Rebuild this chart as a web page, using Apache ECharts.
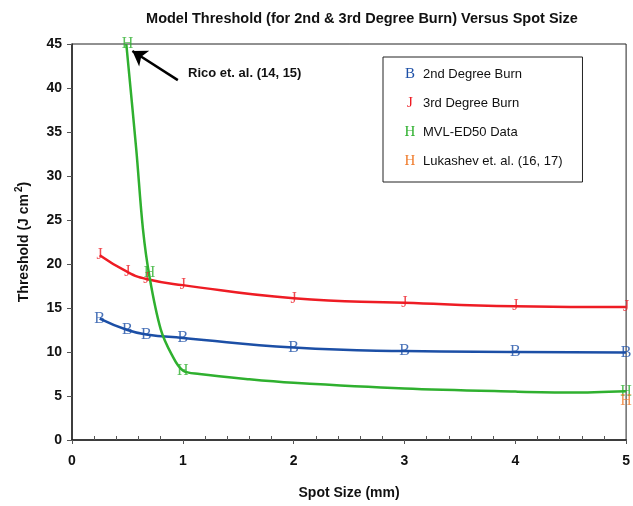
<!DOCTYPE html>
<html>
<head>
<meta charset="utf-8">
<script src="https://cdn.jsdelivr.net/npm/echarts@6/dist/echarts.min.js"></script>
<style>html,body{margin:0;padding:0;background:#fff;}#c{width:633px;height:506px;}</style>
</head>
<body>
<div id="c"></div>
<script>
// Data
const spot = [0.25, 0.5, 0.67, 1.0, 2.0, 3.0, 4.0, 5.0];
const secondDegree = [13.8, 12.5, 12.0, 11.6, 10.5, 10.1, 10.0, 9.95];
const thirdDegree = [21.0, 19.1, 18.3, 17.6, 16.1, 15.6, 15.2, 15.1];
const mvlX = [0.5, 0.7, 1.0, 5.0];
const mvlY = [45, 19, 7.9, 5.5];
const mvlCurveX = [0.49, 0.58, 0.64, 0.70, 0.80, 0.90, 1.0, 1.15, 1.6, 2.0, 3.0, 4.0, 4.5, 5.0];
const mvlCurveY = [45, 33, 24, 18.5, 12.6, 9.7, 7.9, 7.5, 6.9, 6.5, 5.85, 5.5, 5.4, 5.55];
const lukX = [5.0];
const lukY = [4.4];
const legendNames = ['2nd Degree Burn', '3rd Degree Burn', 'MVL-ED50 Data', 'Lukashev et. al. (16, 17)'];
const xTicks = [0, 1, 2, 3, 4, 5];
const yTicks = [0, 5, 10, 15, 20, 25, 30, 35, 40, 45];

const BLUE = '#1c4fa6', RED = '#ee1c24', GREEN = '#2fb02f', ORANGE = '#f07c2c';
const zip = (xs, ys) => xs.map((x, i) => [x, ys[i]]);

const markerLabel = (letter, color) => ({
  show: true, position: 'inside', formatter: letter, color: color,
  fontFamily: 'Liberation Serif', fontSize: 16
});
const scatter = (name, xs, ys, letter, color) => ({
  name: name, type: 'scatter', data: zip(xs, ys), symbol: 'circle', symbolSize: 1,
  itemStyle: { color: 'rgba(0,0,0,0)' }, label: markerLabel(letter, color), z: 5,
  clip: false
});

const chart = echarts.init(document.getElementById('c'), null, { renderer: 'canvas' });
chart.setOption({
  animation: false,
  backgroundColor: '#fff',
  title: {
    text: 'Model Threshold (for 2nd & 3rd Degree Burn) Versus Spot Size',
    left: 357, top: 6, textAlign: 'center',
    textStyle: { fontFamily: 'Liberation Sans', fontWeight: 'bold', fontSize: 14.5, color: '#111' }
  },
  grid: { left: 72, right: 3, top: 44, bottom: 66, show: true, borderColor: '#222', borderWidth: 1 },
  legend: {
    data: legendNames, orient: 'vertical', left: 383, top: 57,
    itemWidth: 0, itemHeight: 0, itemGap: 14,
    padding: [10, 20, 13, 9], borderColor: '#222', borderWidth: 1,
    selectedMode: false,
    formatter: function (n) {
      const m = { '2nd Degree Burn': '{b|B}', '3rd Degree Burn': '{j|J}', 'MVL-ED50 Data': '{g|H}', 'Lukashev et. al. (16, 17)': '{o|H}' };
      return m[n] + '{t|' + n + '}';
    },
    textStyle: {
      rich: {
        b: { color: BLUE, fontFamily: 'Liberation Serif', fontSize: 15, width: 26, height: 16, align: 'center' },
        j: { color: RED, fontFamily: 'Liberation Serif', fontSize: 15, width: 26, height: 16, align: 'center' },
        g: { color: GREEN, fontFamily: 'Liberation Serif', fontSize: 15, width: 26, height: 16, align: 'center' },
        o: { color: ORANGE, fontFamily: 'Liberation Serif', fontSize: 15, width: 26, height: 16, align: 'center' },
        t: { color: '#111', fontFamily: 'Liberation Sans', fontSize: 13, height: 16 }
      }
    }
  },
  xAxis: [{
    type: 'value', min: 0, max: 5, interval: 1,
    name: 'Spot Size (mm)', nameLocation: 'middle', nameGap: 46,
    nameTextStyle: { fontFamily: 'Liberation Sans', fontWeight: 'bold', fontSize: 14, color: '#111' },
    axisLine: { lineStyle: { color: '#222', width: 1.5 } },
    axisTick: { show: true, length: 4, lineStyle: { color: '#555' } },
    axisLabel: { fontFamily: 'Liberation Sans', fontWeight: 'bold', fontSize: 14, color: '#111', margin: 14,
      formatter: v => xTicks.includes(v) ? String(v) : '' },
    splitLine: { show: false }
  }, {
    type: 'value', min: 0, max: 5, interval: 1, position: 'bottom',
    axisLine: { show: false },
    axisTick: { show: false, inside: true },
    minorTick: { show: true, splitNumber: 5, length: 4, lineStyle: { color: '#555' } },
    axisLabel: { show: false },
    splitLine: { show: false }
  }],
  yAxis: {
    type: 'value', min: 0, max: 45, interval: 5,
    name: '{n|Threshold (J cm}{s|2}{n|)}', nameLocation: 'middle', nameGap: 38, nameRotate: 90,
    nameTextStyle: {
      rich: {
        n: { fontFamily: 'Liberation Sans', fontWeight: 'bold', fontSize: 14, color: '#111' },
        s: { fontFamily: 'Liberation Sans', fontWeight: 'bold', fontSize: 10, color: '#111', verticalAlign: 'top', padding: [0, 0, 10, 2] }
      }
    },
    axisLine: { show: true, lineStyle: { color: '#222', width: 1.5 } },
    axisTick: { show: true, length: 5, lineStyle: { color: '#555' } },
    axisLabel: { fontFamily: 'Liberation Sans', fontWeight: 'bold', fontSize: 14, color: '#111', margin: 10,
      formatter: v => yTicks.includes(v) ? String(v) : '' },
    splitLine: { show: false }
  },
  graphic: [{
    type: 'text', left: 188, top: 67,
    style: { text: 'Rico et. al. (14, 15)', fontFamily: 'Liberation Sans', fontWeight: 'bold', fontSize: 13, fill: '#111' }
  }],
  series: [
    { name: '2nd fit', type: 'line', data: zip(spot, secondDegree), smooth: true, symbol: 'none',
      lineStyle: { color: BLUE, width: 2.5 }, z: 3 },
    { name: '3rd fit', type: 'line', data: zip(spot, thirdDegree), smooth: true, symbol: 'none',
      lineStyle: { color: RED, width: 2.5 }, z: 3 },
    { name: 'MVL fit', type: 'line', data: zip(mvlCurveX, mvlCurveY), smooth: 0.35, symbol: 'none',
      lineStyle: { color: GREEN, width: 2.5 }, z: 3,
      markLine: {
        silent: true, symbol: ['none', 'arrow'], symbolSize: 14,
        lineStyle: { color: '#000', width: 2.5, type: 'solid' },
        label: { show: false },
        data: [[{ coord: [0.955, 40.9], symbol: 'none' }, { coord: [0.545, 44.2], symbol: 'arrow', symbolSize: 14 }]]
      }
    },
    scatter('2nd Degree Burn', spot, secondDegree, 'B', BLUE),
    scatter('3rd Degree Burn', spot, thirdDegree, 'J', RED),
    scatter('MVL-ED50 Data', mvlX, mvlY, 'H', GREEN),
    scatter('Lukashev et. al. (16, 17)', lukX, lukY, 'H', ORANGE)
  ]
});
</script>
</body>
</html>
